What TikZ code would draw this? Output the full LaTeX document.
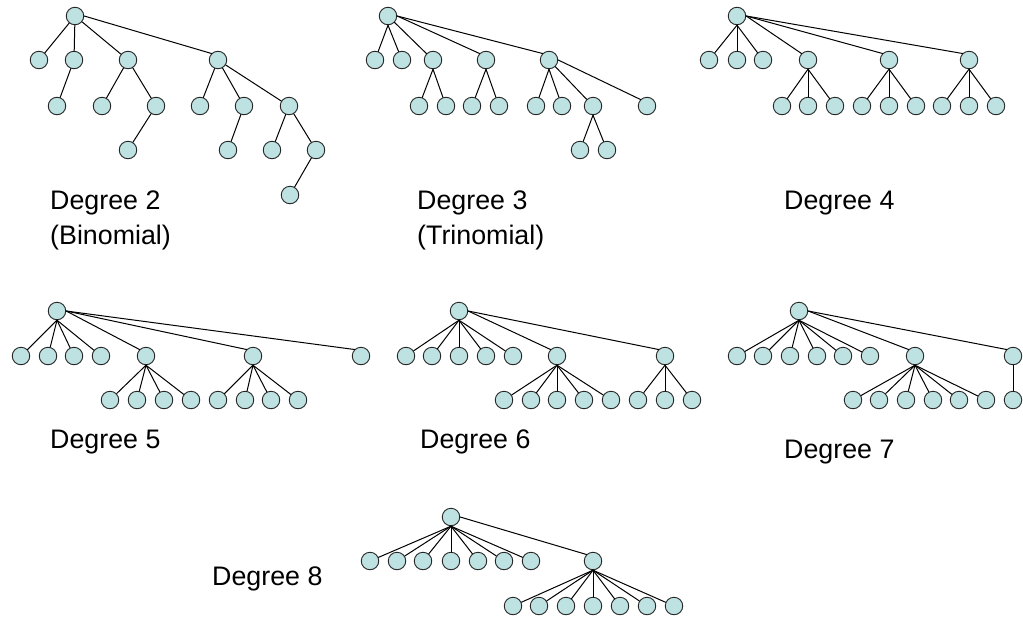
\documentclass[tikz,border=0pt]{standalone}
\usepackage{fontspec}
\setmainfont{Liberation Sans}
\definecolor{nodefill}{RGB}{190,226,226}
% edge helpers: fan edges leave the parent's bottom point,
% far edges leave its right side and meet the child's upper-left point
\newcommand\fanedge[2]{\draw[edge] (#1.south) -- (#2);}
\newcommand\faredge[2]{\draw[edge] (#1.east) -- (#2.north west);}
\newcommand\plainedge[2]{\draw[edge] (#1) -- (#2);}
\begin{document}
\begin{tikzpicture}[x=1pt,y=-1pt,
  tn/.style={circle,draw=black!85,line width=0.9pt,fill=nodefill,minimum size=17.5pt,inner sep=0pt},
  edge/.style={line width=1pt,line cap=round},
  lbl/.style={anchor=base west,inner sep=0pt,font=\fontsize{26.8}{32}\selectfont}]
\useasboundingbox (0,0) rectangle (1023,619);

% ---------- Degree 2 (binomial) ----------
\node[tn] (b0) at (75,16) {};
\node[tn] (b1) at (39,60) {};
\node[tn] (b2) at (74,60) {};
\node[tn] (b3) at (128,60) {};
\node[tn] (b4) at (218,60) {};
\node[tn] (b21) at (57,106) {};
\node[tn] (b31) at (102,106) {};
\node[tn] (b32) at (156,106) {};
\node[tn] (b41) at (200,106) {};
\node[tn] (b42) at (244,106) {};
\node[tn] (b43) at (289,106) {};
\node[tn] (b321) at (128,150) {};
\node[tn] (b421) at (228,150) {};
\node[tn] (b431) at (272,150) {};
\node[tn] (b432) at (316,150) {};
\node[tn] (b4321) at (290,195) {};
\plainedge{b0}{b1} \plainedge{b0}{b2} \plainedge{b0}{b3} \faredge{b0}{b4}
\plainedge{b2}{b21}
\plainedge{b3}{b31} \plainedge{b3}{b32} \plainedge{b32}{b321}
\plainedge{b4}{b41} \plainedge{b4}{b42} \plainedge{b4}{b43}
\plainedge{b42}{b421}
\plainedge{b43}{b431} \plainedge{b43}{b432} \plainedge{b432}{b4321}
\node[lbl] (lab2a) at (50,209) {Degree 2};
\node[lbl] (lab2b) at (50,244) {(Binomial)};

% ---------- Degree 3 (trinomial) ----------
\node[tn] (t0) at (388,16) {};
\node[tn] (t1) at (375,60) {};
\node[tn] (t2) at (402,60) {};
\node[tn] (t3) at (433,60) {};
\node[tn] (t4) at (486,60) {};
\node[tn] (t5) at (549,60) {};
\node[tn] (t31) at (419,106) {};
\node[tn] (t32) at (446,106) {};
\node[tn] (t41) at (472,106) {};
\node[tn] (t42) at (499,106) {};
\node[tn] (t51) at (536,106) {};
\node[tn] (t52) at (562,106) {};
\node[tn] (t53) at (593,106) {};
\node[tn] (t54) at (647,106) {};
\node[tn] (t531) at (580,150) {};
\node[tn] (t532) at (607,150) {};
\fanedge{t0}{t1} \fanedge{t0}{t2} \plainedge{t0}{t3} \faredge{t0}{t4} \faredge{t0}{t5}
\fanedge{t3}{t31} \fanedge{t3}{t32}
\fanedge{t4}{t41} \fanedge{t4}{t42}
\fanedge{t5}{t51} \fanedge{t5}{t52} \plainedge{t5}{t53} \faredge{t5}{t54}
\fanedge{t53}{t531} \fanedge{t53}{t532}
\node[lbl] (lab3a) at (417,209) {Degree 3};
\node[lbl] (lab3b) at (417,244) {(Trinomial)};

% ---------- Degree 4 ----------
\node[tn] (q0) at (737,16) {};
\foreach \x [count=\i] in {709,737,763} {\node[tn] (q\i) at (\x,60) {}; \fanedge{q0}{q\i}}
\node[tn] (q4) at (808,60) {};
\node[tn] (q5) at (889,60) {};
\node[tn] (q6) at (969,60) {};
\faredge{q0}{q4} \faredge{q0}{q5} \faredge{q0}{q6}
\foreach \x [count=\i] in {782,808,835} {\node[tn] (q4\i) at (\x,106) {}; \fanedge{q4}{q4\i}}
\foreach \x [count=\i] in {862,889,916} {\node[tn] (q5\i) at (\x,106) {}; \fanedge{q5}{q5\i}}
\foreach \x [count=\i] in {942,969,996} {\node[tn] (q6\i) at (\x,106) {}; \fanedge{q6}{q6\i}}
\node[lbl] (lab4) at (784,209) {Degree 4};

% ---------- Degree 5 ----------
\node[tn] (p0) at (57,311) {};
\foreach \x [count=\i] in {21,48,74,101} {\node[tn] (p\i) at (\x,356) {}; \fanedge{p0}{p\i}}
\node[tn] (p5) at (146,356) {};
\node[tn] (p6) at (253,356) {};
\node[tn] (p7) at (361,356) {};
\faredge{p0}{p5} \faredge{p0}{p6} \faredge{p0}{p7}
\foreach \x [count=\i] in {110,137,164,191} {\node[tn] (p5\i) at (\x,400) {}; \fanedge{p5}{p5\i}}
\foreach \x [count=\i] in {218,245,271,298} {\node[tn] (p6\i) at (\x,400) {}; \fanedge{p6}{p6\i}}
\node[lbl] (lab5) at (50,448) {Degree 5};

% ---------- Degree 6 ----------
\node[tn] (s0) at (459,311) {};
\foreach \x [count=\i] in {406,432,459,486,513} {\node[tn] (s\i) at (\x,356) {}; \fanedge{s0}{s\i}}
\node[tn] (s6) at (557,356) {};
\node[tn] (s7) at (665,356) {};
\faredge{s0}{s6} \faredge{s0}{s7}
\foreach \x [count=\i] in {504,531,557,584,611} {\node[tn] (s6\i) at (\x,400) {}; \fanedge{s6}{s6\i}}
\foreach \x [count=\i] in {638,665,692} {\node[tn] (s7\i) at (\x,400) {}; \fanedge{s7}{s7\i}}
\node[lbl] (lab6) at (420,448) {Degree 6};

% ---------- Degree 7 ----------
\node[tn] (h0) at (799,311) {};
\foreach \x [count=\i] in {737,763,790,817,843,870} {\node[tn] (h\i) at (\x,356) {}; \fanedge{h0}{h\i}}
\node[tn] (h7) at (915,356) {};
\node[tn] (h8) at (1013,356) {};
\faredge{h0}{h7} \faredge{h0}{h8}
\foreach \x [count=\i] in {853,879,906,933,959,986} {\node[tn] (h7\i) at (\x,400) {}; \fanedge{h7}{h7\i}}
\node[tn] (h81) at (1013,400) {};
\fanedge{h8}{h81}
\node[lbl] (lab7) at (784,458) {Degree 7};

% ---------- Degree 8 ----------
\node[tn] (o0) at (451,517) {};
\foreach \x [count=\i] in {370,397,423,451,478,504,531} {\node[tn] (o\i) at (\x,561) {}; \fanedge{o0}{o\i}}
\node[tn] (o8) at (593,561) {};
\faredge{o0}{o8}
\foreach \x [count=\i] in {513,539,566,593,620,647,674} {\node[tn] (o8\i) at (\x,606) {}; \fanedge{o8}{o8\i}}
\node[lbl] (lab8) at (212,585) {Degree 8};
\end{tikzpicture}
\end{document}
